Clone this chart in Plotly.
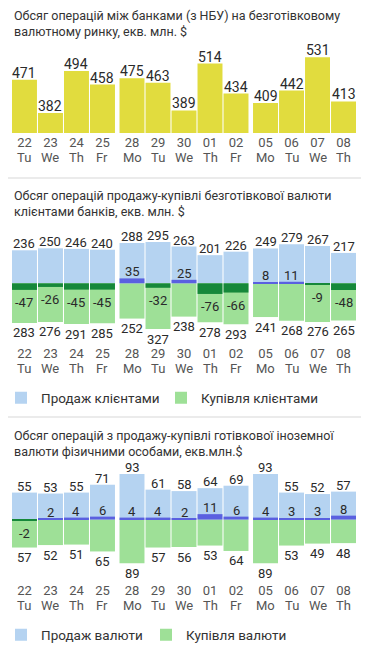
import plotly.graph_objects as go

# ---------------- data ----------------
dates = ["22", "23", "24", "25", "28", "29", "30", "01", "02", "05", "06", "07", "08"]
days = ["Tu", "We", "Th", "Fr", "Mo", "Tu", "We", "Th", "Fr", "Mo", "Tu", "We", "Th"]

interbank = [471, 382, 494, 458, 475, 463, 389, 514, 434, 409, 442, 531, 413]

client_sell = [236, 250, 246, 240, 288, 295, 263, 201, 226, 249, 279, 267, 217]
client_buy = [283, 276, 291, 285, 252, 327, 238, 278, 293, 241, 268, 276, 265]
client_net = [-47, -26, -45, -45, 35, -32, 25, -76, -66, 8, 11, -9, -48]

cash_sell = [55, 53, 55, 71, 93, 61, 58, 64, 69, 93, 55, 52, 57]
cash_buy = [57, 52, 51, 65, 89, 57, 56, 53, 64, 89, 53, 49, 48]
cash_net = [-2, 2, 4, 6, 4, 4, 2, 11, 6, 4, 3, 3, 8]

titles = [
    "Обсяг операцій між банками (з НБУ) на безготівковому<br>валютному ринку, екв. млн. $",
    "Обсяг операцій продажу-купівлі безготівкової валюти<br>клієнтами банків, екв. млн. $",
    "Обсяг операцій з продажу-купівлі готівкової іноземної<br>валюти фізичними особами, екв.млн.$",
]
legend_client = ["Продаж клієнтами", "Купівля клієнтами"]
legend_cash = ["Продаж валюти", "Купівля валюти"]

# ---------------- style ----------------
PAGE_W, PAGE_H = 369, 652
OFF = 8                      # default body margin of the html page
W, H = PAGE_W - 2 * OFF, PAGE_H - 2 * OFF
FONT = "Roboto"
YELLOW = "#e1dc3e"
BLUE = "#b5d3f1"
GREEN = "#9ee097"
DKGREEN = "#16883a"
PURPLE = "#5a60e0"
TXT = "#2a2a2a"
TICK = "#555555"
WEEK_GAP = 0.135

# x positions: a small extra gap before each Monday (new week)
xpos = []
week = 0
for i, d in enumerate(days):
    if d == "Mo" and i > 0:
        week += 1
    xpos.append(i + WEEK_GAP * week)
xr = [xpos[0] - 0.48, xpos[-1] + 0.48]


def py(p):
    """page pixel (from top) -> paper y"""
    return 1 - (p - OFF) / H


def px(p):
    """page pixel (from left) -> paper x"""
    return (p - OFF) / W


XDOM = [px(12), px(356)]

fig = go.Figure()

# Panel 1
fig.add_trace(go.Bar(x=xpos, y=interbank, marker=dict(color=YELLOW, line=dict(width=0)),
                     showlegend=False, xaxis="x", yaxis="y", hoverinfo="skip"))

# Panel 2
fig.add_trace(go.Bar(x=xpos, y=client_sell, name=legend_client[0],
                     marker=dict(color=BLUE, line=dict(width=0)),
                     legend="legend", xaxis="x2", yaxis="y2", hoverinfo="skip"))
fig.add_trace(go.Bar(x=xpos, y=[-v for v in client_buy], name=legend_client[1],
                     marker=dict(color=GREEN, line=dict(width=0)),
                     legend="legend", xaxis="x2", yaxis="y2", hoverinfo="skip"))
fig.add_trace(go.Bar(x=xpos, y=client_net,
                     marker=dict(color=[PURPLE if v > 0 else DKGREEN for v in client_net], line=dict(width=0)),
                     showlegend=False, xaxis="x2", yaxis="y2", hoverinfo="skip"))

# Panel 3
fig.add_trace(go.Bar(x=xpos, y=cash_sell, name=legend_cash[0],
                     marker=dict(color=BLUE, line=dict(width=0)),
                     legend="legend2", xaxis="x3", yaxis="y3", hoverinfo="skip"))
fig.add_trace(go.Bar(x=xpos, y=[-v for v in cash_buy], name=legend_cash[1],
                     marker=dict(color=GREEN, line=dict(width=0)),
                     legend="legend2", xaxis="x3", yaxis="y3", hoverinfo="skip"))
fig.add_trace(go.Bar(x=xpos, y=cash_net,
                     marker=dict(color=[PURPLE if v > 0 else DKGREEN for v in cash_net], line=dict(width=0)),
                     showlegend=False, xaxis="x3", yaxis="y3", hoverinfo="skip"))

annotations = []


def value_labels(xa, ya, yvals, texts, size, pos_shift=-3, neg_shift=-2):
    for xv, yv, t in zip(xpos, yvals, texts):
        up = yv >= 0
        annotations.append(dict(text=str(t), x=xv, y=yv, xref=xa, yref=ya,
                                xanchor="center", yanchor="bottom" if up else "top",
                                yshift=pos_shift if up else neg_shift, showarrow=False,
                                font=dict(size=size, color=TXT, family=FONT)))


value_labels("x", "y", interbank, interbank, 14)
value_labels("x2", "y2", client_sell, client_sell, 13)
value_labels("x2", "y2", [-v for v in client_buy], client_buy, 13, neg_shift=-0.5)
value_labels("x2", "y2", client_net, client_net, 13, neg_shift=-3)
value_labels("x3", "y3", cash_sell, cash_sell, 13)
value_labels("x3", "y3", [-v for v in cash_buy], cash_buy, 13, neg_shift=-0.5)
value_labels("x3", "y3", cash_net, cash_net, 13, neg_shift=-3)

xcommon = dict(range=xr, tickvals=xpos, ticktext=dates, showgrid=False, zeroline=False,
               showline=False, ticks="", tickfont=dict(size=13, color=TICK, family=FONT),
               fixedrange=True)
ycommon = dict(showgrid=False, zeroline=False, showline=False, showticklabels=False,
               ticks="", fixedrange=True)

title_tops = [6, 186, 426]
for t, top in zip(titles, title_tops):
    annotations.append(dict(text=t, x=px(12), y=py(top), xref="paper", yref="paper",
                            xanchor="left", yanchor="top", align="left", showarrow=False,
                            font=dict(size=12.5, color="#333333", family=FONT)))
# weekday row under dates
for xa, ycen in (("x", 157), ("x2", 368), ("x3", 605)):
    for xv, d in zip(xpos, days):
        annotations.append(dict(text=d, x=xv, y=py(ycen), xref=xa, yref="paper",
                                xanchor="center", yanchor="middle", showarrow=False,
                                font=dict(size=13, color=TICK, family=FONT)))

shapes = []
for ys in (178, 417):
    shapes.append(dict(type="line", xref="paper", yref="paper", x0=px(0), x1=px(PAGE_W),
                       y0=py(ys), y1=py(ys), line=dict(color="#ebebeb", width=2)))

legend_common = dict(orientation="h", x=0, xanchor="left", yanchor="middle", indentation=-7,
                     font=dict(size=13.5, color="#333333", family=FONT),
                     bgcolor="rgba(0,0,0,0)", entrywidthmode="pixels")

fig.update_layout(
    width=W, height=H, margin=dict(l=0, r=0, t=0, b=0, autoexpand=False),
    paper_bgcolor="white", plot_bgcolor="white",
    font=dict(family=FONT, color=TXT),
    barmode="overlay", bargap=0.04,
    xaxis=dict(domain=XDOM, anchor="free", position=py(133), **xcommon),
    yaxis=dict(domain=[py(133), py(50)], range=[329, 550], anchor="x", **ycommon),
    xaxis2=dict(domain=XDOM, anchor="free", position=py(344), **xcommon),
    yaxis2=dict(domain=[py(340), py(222)], range=[-405, 438], anchor="x2", **ycommon),
    xaxis3=dict(domain=XDOM, anchor="free", position=py(581), **xcommon),
    yaxis3=dict(domain=[py(575), py(460)], range=[-113, 121.4], anchor="x3", **ycommon),
    legend=dict(y=py(398), entrywidth=122, **legend_common),
    legend2=dict(y=py(635), entrywidth=107, **legend_common),
    annotations=annotations, shapes=shapes,
)

fig.write_html("out.html")
